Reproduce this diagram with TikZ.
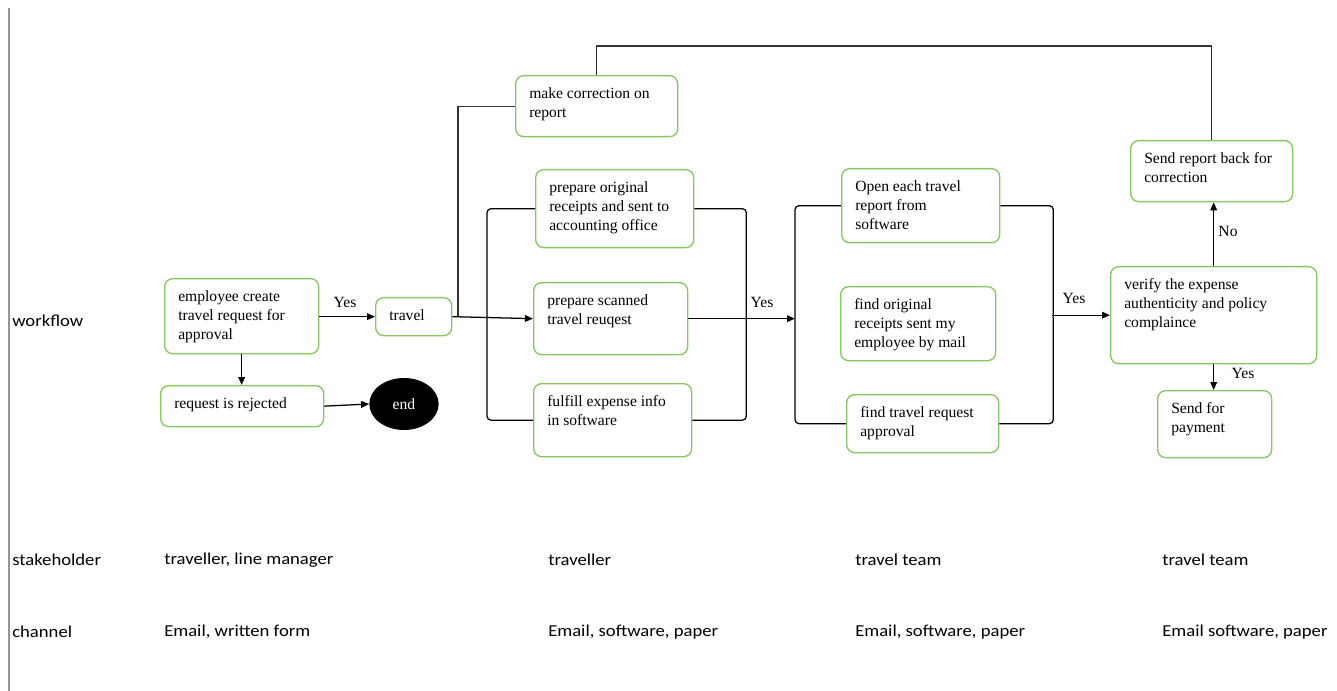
\documentclass[tikz,border=0pt]{standalone}
\usepackage{fontspec}
\setmainfont{Liberation Serif}
\newfontfamily\calib{Carlito}
\usetikzlibrary{arrows.meta,calc,shapes.geometric}

\definecolor{boxgreen}{RGB}{135,198,100}
\definecolor{edgegray}{RGB}{150,150,150}

\tikzset{
  flowbox/.style={draw=boxgreen, line width=1pt, rounded corners=6pt, inner sep=0pt, anchor=north west},
  boxtext/.style={anchor=north west, inner sep=0pt, align=left, font=\fontsize{11.7}{14.25}\selectfont},
  conn/.style={draw=black, line width=0.95pt},
  arr/.style={conn, -{Triangle[length=6pt,width=5pt]}},
  lbl/.style={font=\fontsize{11.7}{13}\selectfont, inner sep=0pt},
  rowlbl/.style={font=\calib\fontsize{12.5}{14}\selectfont, anchor=west, inner sep=0pt},
}

\newcommand\flowbox[6]{%
  \node[flowbox, minimum width={(#4-#2)*0.75pt}, minimum height={(#5-#3)*0.75pt}] (#1) at (#2,#3) {};
  \node[boxtext] (#1-t) at (#2+14,#3+12) {#6};
}
\newcommand\wide[1]{\scalebox{1.12}[1]{#1}}

\begin{document}
\begin{tikzpicture}[x=0.75pt, y=-0.75pt]
\useasboundingbox (0,0) rectangle (1337,691);

% left border line
\coordinate (lt) at (9,8);
\coordinate (lb) at (9,691);
\draw[edgegray, line width=1.1pt] (lt) -- (lb);

% boxes
\flowbox{emp}{164}{278}{318}{353}{employee create\\travel request for\\approval}
\flowbox{trv}{375}{297}{451}{335}{travel}
\flowbox{rej}{160}{385}{323}{426}{request is rejected}
\node[ellipse, fill=black, text=white, minimum width=52pt, minimum height=39pt, inner sep=0pt,
      font=\fontsize{11.7}{13}\selectfont] (end) at (404,404) {end};

\flowbox{mc}{515}{75}{677}{136}{make correction on\\report}
\flowbox{po}{535}{169}{693}{247}{prepare original\\receipts and sent to\\accounting office}
\flowbox{ps}{533}{282}{687}{354}{prepare scanned\\travel reuqest}
\flowbox{fe}{533}{383}{691}{456}{fulfill expense info\\in software}

\flowbox{oe}{841}{168}{999}{242}{Open each travel\\report from\\software}
\flowbox{fo}{840}{286}{995}{360}{find original\\receipts sent my\\employee by mail}
\flowbox{ft}{846}{394}{998}{452}{find travel request\\approval}

\flowbox{vf}{1110}{266}{1316}{363}{verify the expense\\authenticity and policy\\complaince}
\flowbox{sr}{1130}{140}{1292}{201}{Send report back for\\correction}
\flowbox{sp}{1157}{390}{1271}{457}{Send for\\payment}

% connectors
\draw[arr] (emp.east |- trv.west) -- (trv.west);
\node[lbl] (y1) at (345,302) {Yes};
\draw[arr] (emp.south) -- (emp.south |- rej.north);
\draw[arr] (rej.east) -- (end.west);

\draw[arr] (trv.east) -- (ps.west);
\coordinate (cj) at (458,316);
\draw[conn, draw=black!80] (mc.west) -| (cj);

% group 1 brackets
\draw[conn, rounded corners=3pt] (po.west) -- ++(-48,0) |- (fe.west);
\draw[conn, rounded corners=3pt] (po.east) -- ++(52,0) |- (fe.east);

\coordinate (g2l) at (795,0);
\coordinate (g2r) at (1052,0);
\draw[arr] (ps.east) -- (ps.east -| g2l);
\node[lbl] (y2) at (762,302) {Yes};

% group 2 brackets
\draw[conn, rounded corners=3pt] (oe.west) -- ++(-46,0) |- (ft.west);
\draw[conn, rounded corners=3pt] (oe.east) -- ++(53,0) |- (ft.east);

\draw[arr] (vf.west -| g2r) -- (vf.west);
\node[lbl] (y3) at (1074,298) {Yes};

\draw[arr] (vf.north) -- (vf.north |- sr.south);
\node[lbl] (no) at (1228,231) {No};
\draw[arr] (vf.south) -- (vf.south |- sp.north);
\node[lbl] (y4) at (1243,373) {Yes};

% feedback loop
\draw[conn, draw=black!80] (sr.north) -- ++(0,-94) -| (mc.north);

% row labels
\node[rowlbl] (r1) at (12,321) {\wide{workflow}};
\node[rowlbl] (r2) at (12,560) {\wide{stakeholder}};
\node[rowlbl] (r3) at (12,632) {\wide{channel}};

\node[rowlbl] (s1) at (164,560) {\wide{traveller, line manager}};
\node[rowlbl] (s2) at (548,560) {\wide{traveller}};
\node[rowlbl] (s3) at (855,560) {\wide{travel team}};
\node[rowlbl] (s4) at (1162,560) {\wide{travel team}};

\node[rowlbl] (c1) at (164,632) {\wide{Email, written form}};
\node[rowlbl] (c2) at (548,632) {\wide{Email, software, paper}};
\node[rowlbl] (c3) at (855,632) {\wide{Email, software, paper}};
\node[rowlbl] (c4) at (1162,632) {\wide{Email software, paper}};
\end{tikzpicture}
\end{document}
